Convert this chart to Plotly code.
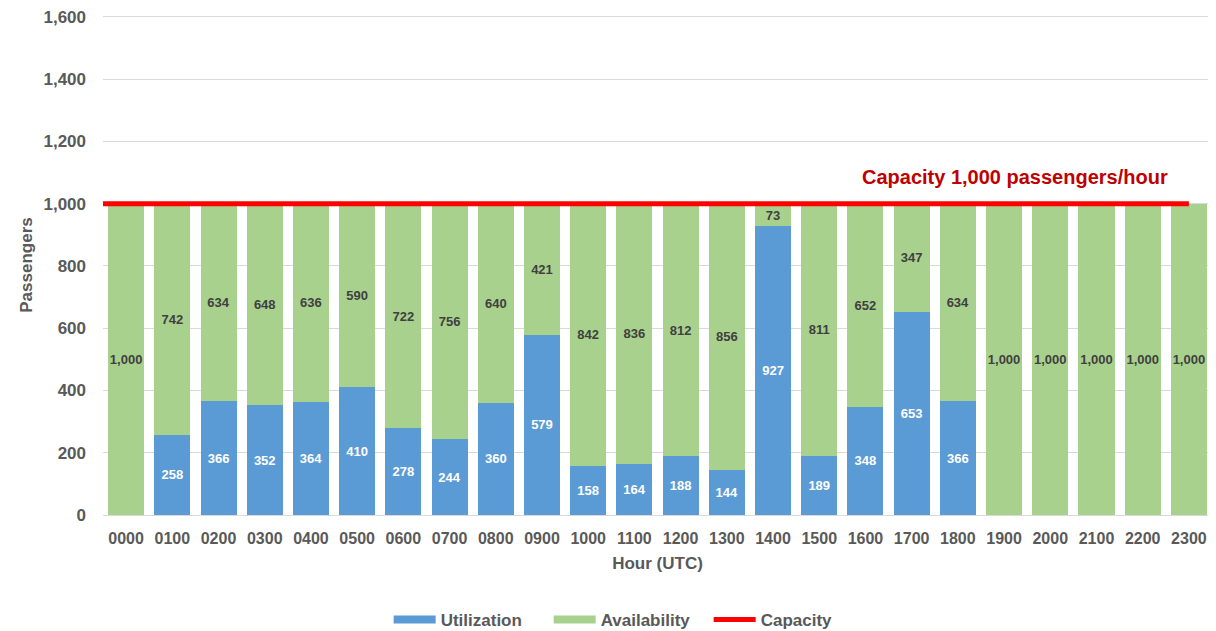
import plotly.graph_objects as go

hours = ["0000", "0100", "0200", "0300", "0400", "0500", "0600", "0700", "0800", "0900",
         "1000", "1100", "1200", "1300", "1400", "1500", "1600", "1700", "1800", "1900",
         "2000", "2100", "2200", "2300"]
utilization = [0, 258, 366, 352, 364, 410, 278, 244, 360, 579,
               158, 164, 188, 144, 927, 189, 348, 653, 366, 0,
               0, 0, 0, 0]
availability = [1000, 742, 634, 648, 636, 590, 722, 756, 640, 421,
                842, 836, 812, 856, 73, 811, 652, 347, 634, 1000,
                1000, 1000, 1000, 1000]
capacity = 1000
y_ticks = [0, 200, 400, 600, 800, 1000, 1200, 1400, 1600]

BLUE = "#5B9BD5"
GREEN = "#A9D18E"
RED = "#FF0000"

idx = list(range(len(hours)))
font_family = "Liberation Sans, Arial, sans-serif"

fig = go.Figure()
fig.add_trace(go.Bar(
    x=idx, y=utilization, name="Utilization", showlegend=False,
    marker=dict(color=BLUE, line=dict(width=0)),
    text=[f"{v:,}" if v else "" for v in utilization],
    textposition="inside", insidetextanchor="middle", textangle=0,
    textfont=dict(color="white", size=13, family=font_family),
    texttemplate="<b>%{text}</b>",
))
fig.add_trace(go.Bar(
    x=idx, y=availability, name="Availability", showlegend=False,
    marker=dict(color=GREEN, line=dict(width=0)),
    text=[f"{v:,}" if v else "" for v in availability],
    textposition="inside", insidetextanchor="middle", textangle=0,
    textfont=dict(color="#404040", size=13, family=font_family),
    texttemplate="<b>%{text}</b>",
))
fig.add_trace(go.Scatter(
    x=[-0.5, idx[-1]], y=[capacity, capacity], name="Capacity", showlegend=False,
    mode="lines", line=dict(color=RED, width=5),
))
# legend entries (wide rectangular swatches like the original)
for name, color, w in [("Utilization", BLUE, 8), ("Availability", GREEN, 8), ("Capacity", RED, 5)]:
    fig.add_trace(go.Scatter(x=[None], y=[None], mode="lines", name=name,
                             line=dict(color=color, width=w)))

fig.add_annotation(
    x=0.962, y=capacity, xref="paper", yref="y",
    text="<b>Capacity 1,000 passengers/hour</b>",
    showarrow=False, xanchor="right", yanchor="bottom", yshift=14,
    font=dict(color="#C00000", size=20, family=font_family),
)

# the page body adds an 8px offset, so the figure is sized to fill the rest of the window
fig.update_layout(
    width=1208, height=623,
    barmode="stack", bargap=0.22,
    plot_bgcolor="white", paper_bgcolor="white",
    margin=dict(l=95, r=4, t=7, b=116, autoexpand=False),
    font=dict(family=font_family, color="#595959"),
    uniformtext=dict(minsize=13, mode="show"),
    legend=dict(orientation="h", x=0.474, xanchor="center", y=-0.21, yanchor="middle",
                font=dict(size=17, color="#595959", family=font_family, weight="bold"),
                traceorder="normal", itemwidth=42, entrywidth=103),
    xaxis=dict(
        tickmode="array", tickvals=idx, ticktext=[f"<b>{h}</b>" for h in hours],
        range=[-0.5, len(hours) - 0.5], automargin=False,
        tickfont=dict(size=16, color="#595959"),
        showgrid=False, showline=True, linecolor="#D9D9D9", linewidth=1,
        ticks="", ticklabelstandoff=9, ticklabeloverflow="allow",
        title=dict(text="<b>Hour (UTC)</b>", font=dict(size=17, color="#595959"), standoff=10),
    ),
    yaxis=dict(
        range=[0, 1606], tickvals=y_ticks, automargin=False,
        ticktext=[f"<b>{v:,}</b>" for v in y_ticks],
        tickfont=dict(size=17, color="#595959"),
        showgrid=True, gridcolor="#D9D9D9", gridwidth=1,
        zeroline=False, ticks="", ticklabelstandoff=16, ticklabeloverflow="allow",
        title=dict(text="<b>Passengers</b>", font=dict(size=17, color="#595959"), standoff=6),
    ),
)

fig.write_html("out.html")
